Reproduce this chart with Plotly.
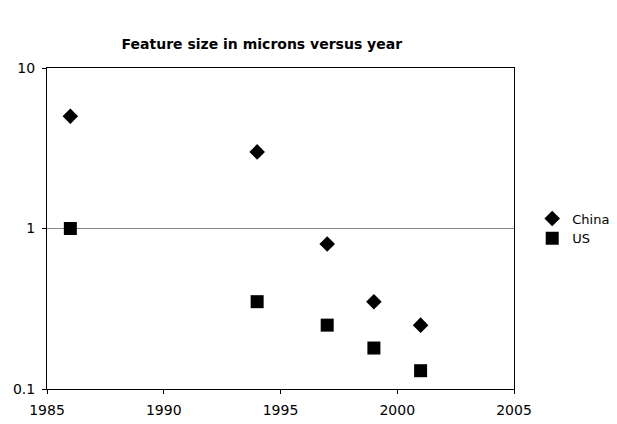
import plotly.graph_objects as go

years_china = [1986, 1994, 1997, 1999, 2001]
china = [5, 3, 0.8, 0.35, 0.25]
years_us = [1986, 1994, 1997, 1999, 2001]
us = [1.0, 0.35, 0.25, 0.18, 0.13]
x_ticks = [1985, 1990, 1995, 2000, 2005]
y_ticks = [0.1, 1, 10]
y_tick_labels = ["0.1", "1", "10"]

fig = go.Figure()
fig.add_trace(go.Scatter(x=years_china, y=china, mode="markers", name="China",
                         marker=dict(symbol="diamond", size=12, color="black")))
fig.add_trace(go.Scatter(x=years_us, y=us, mode="markers", name="US",
                         marker=dict(symbol="square", size=13, color="black")))

# page body has an 8px margin, so the figure is offset by 8px
fig.update_layout(
    width=617, height=424,
    margin=dict(l=39, r=111, t=60, b=43, autoexpand=False),
    paper_bgcolor="white", plot_bgcolor="white",
    font=dict(family="DejaVu Sans, Arial, sans-serif", size=14, color="black"),
    title=dict(text="<b>Feature size in microns versus year</b>", x=0.46, xref="paper",
               xanchor="center", y=1 - 36 / 424, yanchor="middle",
               font=dict(size=14, family="DejaVu Sans")),
    showlegend=True,
    legend=dict(x=1.039, y=0.5, xanchor="left", yanchor="middle",
                font=dict(size=13), tracegroupgap=0,
                bgcolor="rgba(0,0,0,0)"),
    xaxis=dict(range=[1985, 2005], tickvals=x_ticks, showgrid=False, zeroline=False,
               showline=True, linecolor="black", linewidth=1, mirror=True,
               ticks="outside", ticklen=4, tickcolor="black", tickfont=dict(size=14),
               ticklabelstandoff=4, automargin=False),
    yaxis=dict(type="log", range=[-1, 1], tickvals=y_ticks, ticktext=y_tick_labels,
               showgrid=True, gridcolor="#888888", gridwidth=1, zeroline=False,
               showline=True, linecolor="black", linewidth=1, mirror=True,
               ticks="outside", ticklen=4, tickcolor="black", tickfont=dict(size=14),
               ticklabelstandoff=4, automargin=False),
)

fig.write_html("out.html")
